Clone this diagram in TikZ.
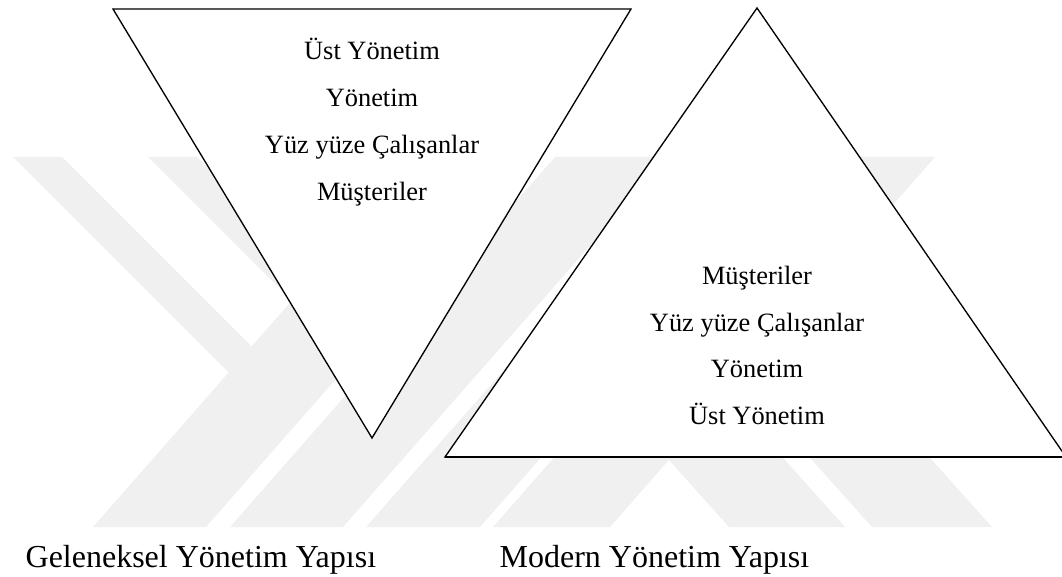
\documentclass[tikz,border=0pt]{standalone}
\usepackage{fontspec}
\setmainfont{Liberation Serif}
\begin{document}
\begin{tikzpicture}[x=0.75pt,y=-0.75pt,line join=miter,line width=1pt]
	\tikzset{every node/.style={inner sep=0pt},
		lbl/.style={anchor=base,font=\fontsize{19.8}{22}\selectfont},
		captxt/.style={anchor=base west,font=\fontsize{24}{28}\selectfont},
		wm/.style={fill=black!6,draw=none},
		tri/.style={draw=black,fill=white}}
	\useasboundingbox (0,0) rectangle (1062,577);
	\clip (0,0) rectangle (1062,577);
	% faint watermark behind the figure
	\begin{scope}
		\clip (0,157) rectangle (1062,527);
		\foreach \a/\b in {13/62,148/197}
		\fill[wm] (\a,157)--(\b,157)--(\b+223,380)--(\a+223,380)--cycle;
		\foreach \a/\b in {93/206,230/343,366/480,493/610}
		\fill[wm] (\a,527)--(\b,527)--(\b+325,157)--(\a+325,157)--cycle;
		\foreach \a/\b in {729/845,872/992}
		\fill[wm] (\a,527)--(\b,527)--(\b-78,440)--(\a-78,440)--cycle;
	\end{scope}
	% triangles
	\coordinate (oL) at (113,9);
	\coordinate (oR) at (631,9);
	\coordinate (oB) at (372,438);
	\coordinate (mT) at (757,8);
	\coordinate (mL) at (445,457);
	\coordinate (mR) at (1066,457);
	\draw[tri] (oL)--(oR)--(oB)--cycle;
	\draw[tri] (mT)--(mL)--(mR)--cycle;
	\draw[line width=1.7pt] (mL)--(mR);
	\foreach \t/\yy [count=\i] in {Üst Yönetim/60,Yönetim/107,Yüz yüze Çalışanlar/154,Müşteriler/200}
	\node[lbl] (old\i) at (372,\yy) {\t};
	\foreach \t/\yy [count=\i] in {Müşteriler/284,Yüz yüze Çalışanlar/331,Yönetim/377,Üst Yönetim/424}
	\node[lbl] (new\i) at (757,\yy) {\t};
	\node[captxt] (oldcap) at (25,567) {Geleneksel Yönetim Yapısı};
	\node[captxt] (newcap) at (499,567) {Modern Yönetim Yapısı};
\end{tikzpicture}
\end{document}
